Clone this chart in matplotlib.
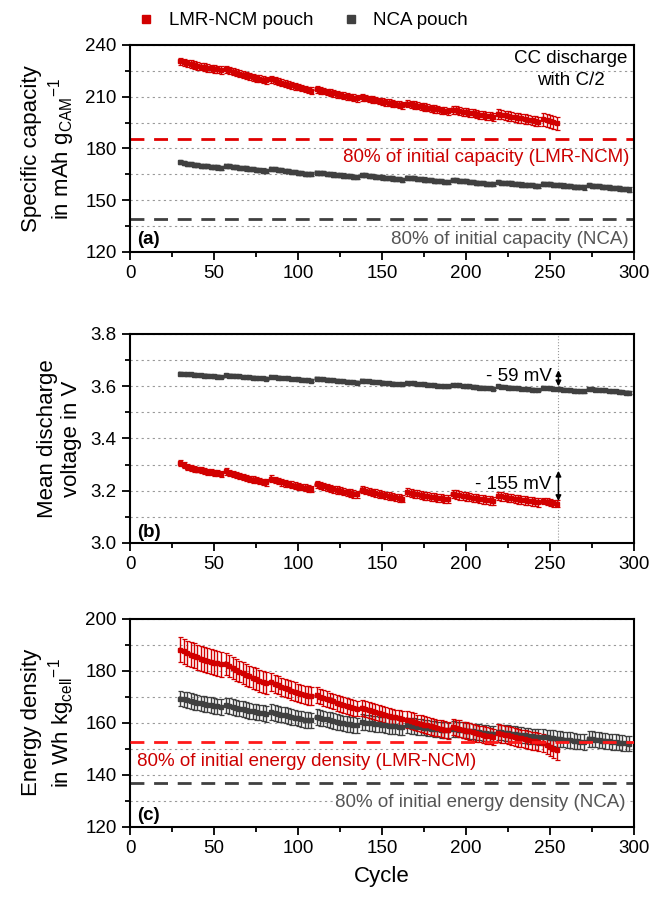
import numpy as np
import matplotlib.pyplot as plt
from matplotlib.lines import Line2D

plt.rcParams['font.family'] = ['Liberation Sans', 'DejaVu Sans']
plt.rcParams['mathtext.fontset'] = 'custom'
plt.rcParams['mathtext.rm'] = 'Liberation Sans'
plt.rcParams['mathtext.it'] = 'Liberation Sans:italic'

RED = '#d20000'
GRAY = '#404040'

# cycle blocks (every 2nd cycle is plotted), 25 cycles per block
block_starts_lmr = [30, 57, 84, 111, 138, 165, 192, 219, 246]
block_starts_nca = [30, 57, 84, 111, 138, 165, 192, 219, 246, 273]
last_block_lmr = [246, 248, 250, 252, 254]

# (a) specific capacity, mAh/g
cap_lmr = [
    230.5, 229.9, 229.3, 228.8, 228.3, 227.9, 227.5, 227.1, 226.7, 226.4, 226.1, 225.8, 225.5,
    226.0, 225.3, 224.6, 224.0, 223.4, 222.8, 222.3, 221.8, 221.3, 220.8, 220.4, 219.9, 219.5,
    220.0, 219.4, 218.8, 218.2, 217.6, 217.0, 216.5, 216.0, 215.5, 215.0, 214.5, 214.0, 213.5,
    214.2, 213.7, 213.2, 212.7, 212.3, 211.9, 211.4, 211.0, 210.6, 210.2, 209.8, 209.4, 209.0,
    209.6, 209.2, 208.8, 208.4, 208.0, 207.6, 207.2, 206.8, 206.5, 206.1, 205.8, 205.4, 205.0,
    206.0, 205.6, 205.2, 204.8, 204.4, 204.0, 203.6, 203.3, 202.9, 202.6, 202.2, 201.9, 201.5,
    202.5, 202.1, 201.7, 201.4, 201.0, 200.7, 200.3, 200.0, 199.6, 199.3, 198.9, 198.6, 198.2,
    200.0, 199.6, 199.2, 198.8, 198.4, 198.1, 197.7, 197.4, 197.0, 196.6, 196.3, 195.9, 195.5,
    197.0, 196.4, 195.8, 195.2, 194.6,
]
cap_lmr_err = [2.2, 2.0, 1.9, 1.9, 1.9, 2.1, 2.3, 2.7, 3.8]
cap_nca = [
    172.0, 171.6, 171.2, 170.9, 170.6, 170.3, 170.0, 169.8, 169.6, 169.4, 169.2, 169.0, 168.8,
    169.9, 169.6, 169.4, 169.1, 168.9, 168.6, 168.4, 168.1, 167.9, 167.7, 167.5, 167.2, 167.0,
    168.2, 167.9, 167.6, 167.3, 167.0, 166.8, 166.5, 166.2, 165.9, 165.7, 165.4, 165.2, 165.0,
    166.0, 165.8, 165.6, 165.3, 165.1, 164.9, 164.7, 164.5, 164.3, 164.1, 163.9, 163.7, 163.5,
    164.6, 164.4, 164.2, 163.9, 163.7, 163.5, 163.2, 163.0, 162.8, 162.6, 162.3, 162.1, 161.9,
    163.1, 162.9, 162.7, 162.4, 162.2, 162.0, 161.8, 161.5, 161.3, 161.1, 160.9, 160.6, 160.4,
    161.7, 161.5, 161.3, 161.1, 160.9, 160.7, 160.5, 160.2, 160.0, 159.8, 159.6, 159.4, 159.2,
    160.4, 160.2, 160.0, 159.8, 159.7, 159.5, 159.3, 159.1, 158.9, 158.7, 158.6, 158.4, 158.2,
    159.6, 159.4, 159.2, 159.0, 158.8, 158.7, 158.5, 158.3, 158.1, 157.9, 157.8, 157.6, 157.4,
    158.6, 158.4, 158.2, 158.0, 157.8, 157.6, 157.4, 157.2, 157.0, 156.8, 156.6, 156.4, 156.2,
]
cap_nca_err = [1.2] * 10

# (b) mean discharge voltage, V
volt_lmr = [
    3.305, 3.298, 3.292, 3.288, 3.284, 3.281, 3.278, 3.275, 3.273, 3.271, 3.269, 3.267, 3.265,
    3.274, 3.269, 3.264, 3.260, 3.256, 3.252, 3.249, 3.246, 3.243, 3.240, 3.237, 3.234, 3.232,
    3.246, 3.241, 3.237, 3.233, 3.229, 3.226, 3.223, 3.220, 3.217, 3.214, 3.211, 3.209, 3.207,
    3.225, 3.221, 3.217, 3.213, 3.209, 3.206, 3.203, 3.200, 3.197, 3.194, 3.191, 3.188, 3.186,
    3.204, 3.200, 3.197, 3.194, 3.191, 3.188, 3.185, 3.182, 3.180, 3.177, 3.175, 3.172, 3.170,
    3.194, 3.191, 3.189, 3.186, 3.184, 3.181, 3.179, 3.177, 3.175, 3.173, 3.171, 3.169, 3.167,
    3.187, 3.185, 3.182, 3.180, 3.178, 3.175, 3.173, 3.171, 3.169, 3.167, 3.165, 3.163, 3.161,
    3.180, 3.178, 3.176, 3.173, 3.171, 3.169, 3.167, 3.165, 3.163, 3.161, 3.159, 3.157, 3.155,
    3.161, 3.158, 3.155, 3.152, 3.150,
]
volt_lmr_err = [0.011, 0.012, 0.013, 0.014, 0.014, 0.015, 0.016, 0.016, 0.013]
volt_nca = [
    3.648, 3.647, 3.646, 3.645, 3.644, 3.643, 3.642, 3.641, 3.640, 3.639, 3.638, 3.637, 3.636,
    3.642, 3.641, 3.640, 3.639, 3.638, 3.636, 3.635, 3.634, 3.633, 3.632, 3.631, 3.630, 3.629,
    3.636, 3.635, 3.633, 3.632, 3.631, 3.630, 3.628, 3.627, 3.626, 3.625, 3.623, 3.622, 3.621,
    3.629, 3.628, 3.626, 3.625, 3.624, 3.622, 3.621, 3.620, 3.619, 3.617, 3.616, 3.615, 3.614,
    3.621, 3.620, 3.619, 3.617, 3.616, 3.615, 3.614, 3.612, 3.611, 3.610, 3.609, 3.608, 3.607,
    3.613, 3.612, 3.611, 3.609, 3.608, 3.607, 3.606, 3.604, 3.603, 3.602, 3.601, 3.600, 3.599,
    3.605, 3.604, 3.603, 3.601, 3.600, 3.599, 3.598, 3.596, 3.595, 3.594, 3.593, 3.592, 3.591,
    3.599, 3.598, 3.597, 3.595, 3.594, 3.593, 3.592, 3.590, 3.589, 3.588, 3.587, 3.586, 3.585,
    3.594, 3.593, 3.592, 3.590, 3.589, 3.588, 3.587, 3.585, 3.584, 3.583, 3.582, 3.581, 3.580,
    3.590, 3.589, 3.587, 3.586, 3.585, 3.584, 3.582, 3.581, 3.580, 3.579, 3.577, 3.576, 3.575,
]
volt_nca_err = [0.005] * 10

# (c) energy density, Wh/kg
ed_lmr = [
    188.0, 187.4, 186.8, 186.2, 185.7, 185.2, 184.7, 184.3, 183.9, 183.5, 183.1, 182.8, 182.5,
    182.7, 181.9, 181.1, 180.4, 179.7, 179.0, 178.4, 177.8, 177.3, 176.7, 176.2, 175.7, 175.3,
    175.6, 175.0, 174.4, 173.9, 173.4, 172.9, 172.4, 172.0, 171.6, 171.2, 170.8, 170.5, 170.2,
    170.6, 170.1, 169.6, 169.1, 168.6, 168.2, 167.7, 167.3, 166.9, 166.5, 166.2, 165.8, 165.5,
    165.7, 165.3, 164.9, 164.5, 164.1, 163.8, 163.4, 163.1, 162.7, 162.4, 162.1, 161.9, 161.6,
    161.2, 160.8, 160.4, 160.0, 159.7, 159.3, 159.0, 158.6, 158.3, 158.0, 157.7, 157.4, 157.1,
    158.4, 158.0, 157.7, 157.3, 157.0, 156.7, 156.3, 156.0, 155.7, 155.4, 155.1, 154.9, 154.6,
    156.1, 155.8, 155.5, 155.2, 154.9, 154.6, 154.3, 154.0, 153.7, 153.4, 153.1, 152.9, 152.6,
    152.2, 151.5, 150.8, 150.1, 149.4,
]
ed_lmr_err = [4.8, 4.2, 3.5, 3.0, 3.0, 3.2, 3.2, 3.4, 3.5]
ed_nca = [
    169.3, 169.0, 168.7, 168.4, 168.1, 167.8, 167.5, 167.3, 167.0, 166.8, 166.5, 166.3, 166.1,
    166.7, 166.4, 166.1, 165.8, 165.5, 165.2, 164.9, 164.6, 164.4, 164.1, 163.9, 163.7, 163.5,
    164.1, 163.8, 163.5, 163.2, 162.9, 162.6, 162.3, 162.0, 161.7, 161.4, 161.2, 161.0, 160.9,
    162.2, 161.9, 161.6, 161.3, 161.0, 160.7, 160.4, 160.1, 159.8, 159.6, 159.4, 159.2, 159.0,
    160.3, 160.1, 159.9, 159.8, 159.6, 159.4, 159.3, 159.1, 158.9, 158.8, 158.6, 158.5, 158.4,
    159.0, 158.8, 158.7, 158.5, 158.3, 158.2, 158.0, 157.8, 157.7, 157.5, 157.3, 157.2, 157.1,
    157.7, 157.5, 157.4, 157.2, 157.0, 156.9, 156.7, 156.5, 156.4, 156.2, 156.0, 155.9, 155.8,
    156.5, 156.3, 156.2, 156.0, 155.8, 155.7, 155.5, 155.3, 155.2, 155.0, 154.8, 154.7, 154.6,
    154.6, 154.4, 154.3, 154.1, 153.9, 153.8, 153.6, 153.4, 153.3, 153.1, 152.9, 152.8, 152.6,
    153.9, 153.7, 153.6, 153.4, 153.2, 153.1, 152.9, 152.7, 152.6, 152.4, 152.3, 152.1, 152.0,
]
ed_nca_err = [3.0] * 10

# 80 % limits
lim_cap_lmr, lim_cap_nca = 185.3, 139.0
lim_ed_lmr, lim_ed_nca = 152.6, 137.0


def blocks(starts, last=None):
    out = []
    for s in starts:
        cyc = list(range(s, s + 25, 2))
        if last is not None and s == starts[-1]:
            cyc = last
        out.append(cyc)
    return out


def draw(ax, starts, vals, errs, color, last=None):
    i = 0
    for k, cyc in enumerate(blocks(starts, last)):
        n = len(cyc)
        y = vals[i:i + n]
        i += n
        ax.errorbar(cyc, y, yerr=errs[k], color=color, ecolor=color, lw=2.8,
                    marker='s', ms=3.2, elinewidth=1.0, capsize=1.8, capthick=0.9, zorder=3)


fig = plt.figure(figsize=(6.55, 8.99), dpi=100)
axes = [fig.add_axes([0.1985, 0.7197, 0.7695, 0.2303]),
        fig.add_axes([0.1985, 0.3960, 0.7695, 0.2325]),
        fig.add_axes([0.1985, 0.0801, 0.7695, 0.2317])]

for ax in axes:
    ax.set_xlim(0, 300)
    ax.set_xticks([0, 50, 100, 150, 200, 250, 300])
    ax.set_xticks(np.arange(25, 300, 50), minor=True)
    ax.tick_params(axis='both', which='major', direction='out', length=6, width=1.3, labelsize=13.5)
    ax.tick_params(axis='both', which='minor', direction='out', length=3.5, width=1.3)
    for s in ax.spines.values():
        s.set_linewidth(1.5)
    ax.grid(True, axis='y', which='both', ls=(0, (2, 3)), color='#999999', lw=0.8, zorder=0)

TXT = 13.5
LAB = 16
white = dict(facecolor='white', edgecolor='none', pad=1)

# (a)
ax = axes[0]
ax.set_ylim(120, 240)
ax.set_yticks([120, 150, 180, 210, 240])
ax.set_yticks([135, 165, 195, 225], minor=True)
draw(ax, block_starts_nca, cap_nca, cap_nca_err, GRAY)
draw(ax, block_starts_lmr, cap_lmr, cap_lmr_err, RED, last_block_lmr)
ax.axhline(lim_cap_lmr, color='#e00000', ls=(0, (5, 3.5)), lw=2, zorder=2)
ax.axhline(lim_cap_nca, color=GRAY, ls=(0, (5, 3.5)), lw=2, zorder=2)
ax.text(297, 174.5, '80% of initial capacity (LMR-NCM)', color='#cc0000', fontsize=TXT,
        ha='right', va='center')
ax.text(297, 127, '80% of initial capacity (NCA)', color='#555555', fontsize=TXT,
        ha='right', va='center')
ax.text(296, 237, 'CC discharge\nwith C/2', fontsize=TXT, ha='right', va='top',
        multialignment='center', linespacing=1.4)
ax.text(4, 127, '(a)', fontsize=TXT, fontweight='bold', ha='left', va='center')
ax.set_ylabel('Specific capacity\nin mAh g$_\\mathrm{CAM}$$^{-1}$', fontsize=LAB, labelpad=6)

# (b)
ax = axes[1]
ax.set_ylim(3.0, 3.8)
ax.set_yticks([3.0, 3.2, 3.4, 3.6, 3.8])
ax.set_yticks([3.1, 3.3, 3.5, 3.7], minor=True)
ax.set_yticklabels(['3.0', '3.2', '3.4', '3.6', '3.8'])
draw(ax, block_starts_nca, volt_nca, volt_nca_err, GRAY)
draw(ax, block_starts_lmr, volt_lmr, volt_lmr_err, RED, last_block_lmr)
ax.axvline(255, color='#999999', ls=':', lw=0.8, zorder=1)
ax.annotate('', xy=(255, 3.589), xytext=(255, 3.672),
            arrowprops=dict(arrowstyle='<|-|>', color='black', lw=1.1, mutation_scale=8))
ax.annotate('', xy=(255, 3.150), xytext=(255, 3.287),
            arrowprops=dict(arrowstyle='<|-|>', color='black', lw=1.1, mutation_scale=8))
ax.text(251, 3.638, '- 59 mV', fontsize=TXT, ha='right', va='center')
ax.text(251, 3.222, '- 155 mV', fontsize=TXT, ha='right', va='center')
ax.text(4, 3.04, '(b)', fontsize=TXT, fontweight='bold', ha='left', va='center')
ax.set_ylabel('Mean discharge\nvoltage in V', fontsize=LAB, labelpad=6)

# (c)
ax = axes[2]
ax.set_ylim(120, 200)
ax.set_yticks([120, 140, 160, 180, 200])
ax.set_yticks([130, 150, 170, 190], minor=True)
draw(ax, block_starts_nca, ed_nca, ed_nca_err, GRAY)
draw(ax, block_starts_lmr, ed_lmr, ed_lmr_err, RED, last_block_lmr)
ax.axhline(lim_ed_lmr, color='#ff1a1a', ls=(0, (5, 3.5)), lw=2, zorder=4)
ax.axhline(lim_ed_nca, color=GRAY, ls=(0, (5, 3.5)), lw=2, zorder=2)
ax.text(4, 145, '80% of initial energy density (LMR-NCM)', color='#cc0000', fontsize=TXT,
        ha='left', va='center')
ax.text(295, 129.3, '80% of initial energy density (NCA)', color='#555555', fontsize=TXT,
        ha='right', va='center', bbox=white, zorder=5)
ax.text(4, 124.5, '(c)', fontsize=TXT, fontweight='bold', ha='left', va='center')
ax.set_ylabel('Energy density\nin Wh kg$_\\mathrm{cell}$$^{-1}$', fontsize=LAB, labelpad=6)
ax.set_xlabel('Cycle', fontsize=LAB, labelpad=6)

handles = [Line2D([], [], ls='none', marker='s', ms=6, color=RED),
           Line2D([], [], ls='none', marker='s', ms=6, color=GRAY)]
fig.legend(handles, ['LMR-NCM pouch', 'NCA pouch'], loc='center', bbox_to_anchor=(0.46, 0.977),
           ncol=2, frameon=False, fontsize=13.5, handletextpad=0.6, columnspacing=1.4,
           handlelength=1.2)

fig.savefig('out.png', dpi=100)
